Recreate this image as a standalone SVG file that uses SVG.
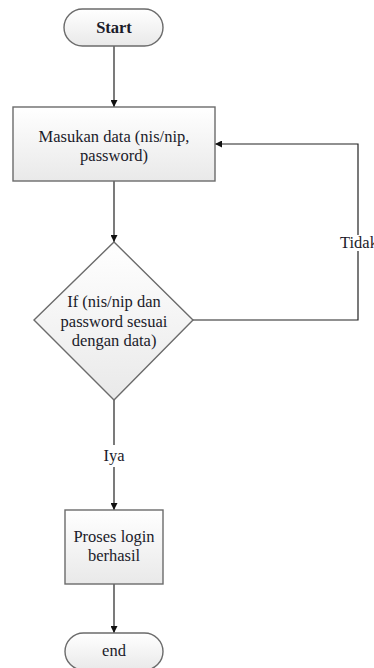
<svg xmlns="http://www.w3.org/2000/svg" width="374" height="668" viewBox="0 0 374 668" font-family="Liberation Serif, Times New Roman, serif">
  <defs>
    <linearGradient id="fill" x1="0" y1="0" x2="0" y2="1">
      <stop offset="0" stop-color="#ffffff"/>
      <stop offset="1" stop-color="#e9e9e9"/>
    </linearGradient>
    <marker id="arrow" viewBox="0 0 10 10" refX="10" refY="5" markerWidth="7" markerHeight="7" markerUnits="userSpaceOnUse" orient="auto">
      <path d="M0,0 L10,5 L0,10 z" fill="#111"/>
    </marker>
  </defs>
  <style>
    .shape { fill: url(#fill); stroke: #6b6b6b; stroke-width: 1.4; }
    .t { font-family: "Liberation Serif", "Times New Roman", serif; font-size: 16.5px; fill: #1b1b2a; text-anchor: middle; }
    .bold { font-weight: bold; }
    .wire { fill: none; stroke: #222; stroke-width: 1.2; }
  </style>
  <rect width="374" height="668" fill="#ffffff"/>

  <g id="connectors">
    <line class="wire" x1="114" y1="46" x2="114" y2="107" marker-end="url(#arrow)"/>
    <line class="wire" x1="114" y1="181" x2="114" y2="242" marker-end="url(#arrow)"/>
    <polyline class="wire" points="193,320 358,320 358,251"/>
    <polyline class="wire" points="358,235 358,144 215,144" marker-end="url(#arrow)"/>
    <line class="wire" x1="114" y1="400" x2="114" y2="445"/>
    <line class="wire" x1="114" y1="467" x2="114" y2="510" marker-end="url(#arrow)"/>
    <line class="wire" x1="114" y1="584" x2="114" y2="633" marker-end="url(#arrow)"/>
    <text class="t" x="340" y="248" style="text-anchor:start">Tidak</text>
    <text class="t" x="114" y="461">Iya</text>
  </g>

  <g id="start">
    <rect class="shape" x="64" y="9" width="99" height="37" rx="18.5" ry="18.5"/>
    <text class="t bold" x="114" y="33">Start</text>
  </g>

  <g id="input">
    <rect class="shape" x="13" y="107" width="202" height="74"/>
    <text class="t" x="114" y="142">Masukan data (nis/nip,</text>
    <text class="t" x="114" y="161">password)</text>
  </g>

  <g id="decision">
    <polygon class="shape" points="114,242 193,320 114,400 34,320"/>
    <text class="t" x="114" y="307">If (nis/nip dan</text>
    <text class="t" x="114" y="327">password sesuai</text>
    <text class="t" x="114" y="346">dengan data)</text>
  </g>

  <g id="success">
    <rect class="shape" x="65" y="510" width="98" height="74"/>
    <text class="t" x="114" y="542">Proses login</text>
    <text class="t" x="114" y="561">berhasil</text>
  </g>

  <g id="end">
    <rect class="shape" x="65" y="633" width="98" height="37" rx="18.5" ry="18.5"/>
    <text class="t" x="114" y="656">end</text>
  </g>
</svg>
